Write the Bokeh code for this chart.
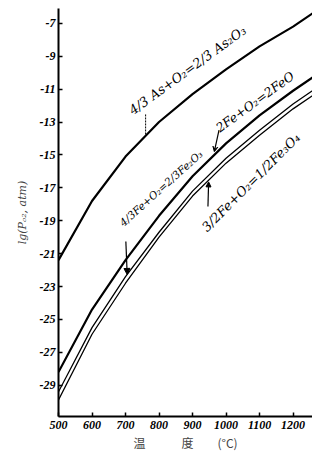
import numpy as np
from bokeh.plotting import figure
from bokeh.models import Range1d, FixedTicker, Label, Arrow, VeeHead, NormalHead
from bokeh.embed import file_html
from bokeh.resources import INLINE

# ---- data ----
temps = [500, 600, 700, 800, 900, 1000, 1100, 1200, 1265]
as2o3 = [-21.4, -17.8, -15.1, -13.0, -11.3, -9.8, -8.4, -7.2, -6.3]
feo = [-28.2, -24.4, -21.4, -18.7, -16.3, -14.3, -12.6, -11.1, -10.2]
fe2o3 = [-29.4, -25.5, -22.4, -19.7, -17.2, -15.2, -13.5, -11.9, -11.0]
fe3o4 = [-29.9, -25.9, -22.8, -20.0, -17.5, -15.5, -13.8, -12.2, -11.3]
x_ticks = [500, 600, 700, 800, 900, 1000, 1100, 1200]
y_ticks = [-29, -27, -25, -23, -21, -19, -17, -15, -13, -11, -9, -7]

p = figure(width=312, height=453, output_backend="svg", toolbar_location=None,
           x_range=Range1d(500, 1258), y_range=Range1d(-30.9, -6.1),
           min_border_left=58, min_border_right=0, min_border_top=8,
           min_border_bottom=35)
p.outline_line_color = None
p.grid.grid_line_color = None
p.background_fill_color = "white"

tick_font = "Liberation Serif"
for ax in (p.xaxis[0], p.yaxis[0]):
    ax.major_tick_in = 4
    ax.major_tick_out = 0
    ax.minor_tick_line_color = None
    ax.axis_line_width = 2
    ax.major_tick_line_width = 1.5
    ax.major_label_text_font = tick_font
    ax.major_label_text_font_style = "bold italic"
    ax.major_label_text_font_size = "12px"
    ax.major_label_text_color = "black"

p.xaxis.ticker = FixedTicker(ticks=x_ticks)
p.yaxis.ticker = FixedTicker(ticks=y_ticks)
p.yaxis.major_label_overrides = {t: "-%d" % abs(t) for t in y_ticks}
p.xaxis.major_label_standoff = 4
p.yaxis.major_label_standoff = 3

p.xaxis.axis_label = "温\u3000\u3000\u3000度\u3000\u3000(°C)"
p.xaxis.axis_label_text_font = "Noto Sans CJK SC"
p.xaxis.axis_label_text_font_style = "normal"
p.xaxis.axis_label_text_font_size = "12px"
p.xaxis.axis_label_standoff = 2

p.yaxis.axis_label = "lg(Pₒ₂, atm)"
p.yaxis.axis_label_text_font = "DejaVu Serif"
p.yaxis.axis_label_text_font_style = "italic"
p.yaxis.axis_label_text_font_size = "11px"
p.yaxis.axis_label_standoff = 8

p.line(temps, as2o3, line_color="black", line_width=2.2)
p.line(temps, feo, line_color="black", line_width=2.2)
p.line(temps, fe2o3, line_color="black", line_width=1.3)
p.line(temps, fe3o4, line_color="black", line_width=1.3)

lab_font = "DejaVu Serif"
def add_label(x, y, txt, ang_deg, size="10.5px"):
    p.add_layout(Label(x=x, y=y, text=txt, angle=np.radians(ang_deg),
                       text_font=lab_font, text_font_style="italic",
                       text_font_size=size, text_color="black",
                       text_baseline="bottom", text_align="left"))

# As label with leader line
xa = 760
ya = float(np.interp(xa, temps, as2o3))
p.segment(x0=[xa], y0=[ya + 1.3], x1=[xa], y1=[ya], line_color="black",
          line_width=1, line_dash="2 1")
add_label(728, ya + 1.1, "4/3 As+O₂=2/3 As₂O₃", 36, "13px")

# Fe2O3 label with arrow to middle line
xf = 705
yf = float(np.interp(xf, temps, fe2o3))
p.add_layout(Arrow(x_start=xf - 4, y_start=yf + 2.0, x_end=xf, y_end=yf,
                   line_width=1.2, end=NormalHead(size=6, fill_color="black")))
add_label(699, yf + 2.8, "4/3Fe+O₂=2/3Fe₂O₃", 42, "10.5px")

# FeO label with arrow to top Fe line
xo = 965
yo = float(np.interp(xo, temps, feo))
p.add_layout(Arrow(x_start=xo + 14, y_start=yo + 1.5, x_end=xo, y_end=yo + 0.2,
                   line_width=1.2, end=VeeHead(size=5)))
add_label(987, yo + 1.2, "2Fe+O₂=2FeO", 36, "12.5px")

# Fe3O4 label with arrow to bottom line
xb = 948
yb = float(np.interp(xb, temps, fe3o4))
p.add_layout(Arrow(x_start=xb - 2, y_start=yb - 1.6, x_end=xb, y_end=yb - 0.1,
                   line_width=1.2, end=NormalHead(size=5, fill_color="black")))
add_label(xb + 2, yb - 3.3, "3/2Fe+O₂=1/2Fe₃O₄", 45, "13px")

open("out.html", "w").write(file_html(p, INLINE))
